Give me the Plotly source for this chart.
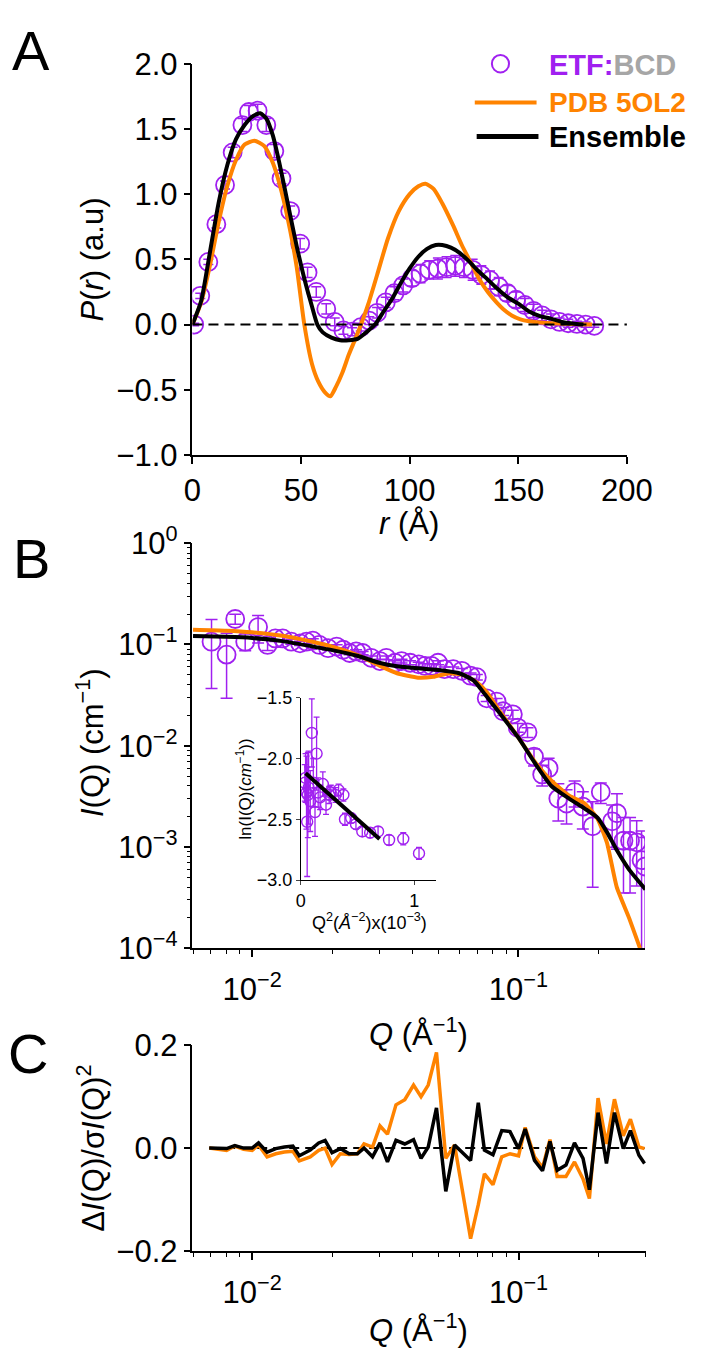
import plotly.graph_objects as go

# ---------------- Panel A : P(r) ----------------
r_data = [0.8, 3.6, 7.3, 11, 15, 18.5, 23, 26, 30, 34, 37.7, 41, 45, 49.6, 53, 57, 61.6, 65.5, 69.5, 73.5,
          77.5, 81.4, 85, 89, 93, 97, 101, 105, 109, 113, 117, 121, 125, 129, 133, 137, 141, 145, 149, 153,
          157, 161, 165, 169, 173, 177, 181, 185]
p_data = [0, 0.22, 0.48, 0.77, 1.07, 1.32, 1.53, 1.63, 1.64, 1.53, 1.33, 1.12, 0.87, 0.62, 0.40, 0.25, 0.12, 0.02, -0.045, -0.055,
          -0.02, 0.03, 0.09, 0.17, 0.24, 0.30, 0.355, 0.39, 0.42, 0.43, 0.44, 0.45, 0.44, 0.42, 0.38, 0.34, 0.29, 0.24, 0.19, 0.15,
          0.105, 0.07, 0.04, 0.02, 0.01, 0.005, 0, -0.01]
p_err = [0.01, 0.02, 0.02, 0.03, 0.03, 0.04, 0.05, 0.05, 0.05, 0.05, 0.05, 0.04, 0.04, 0.04, 0.04, 0.04, 0.04, 0.03, 0.03, 0.03,
         0.03, 0.03, 0.04, 0.04, 0.05, 0.05, 0.06, 0.07, 0.07, 0.08, 0.08, 0.08, 0.08, 0.08, 0.07, 0.07, 0.07, 0.06, 0.06, 0.05,
         0.05, 0.04, 0.04, 0.03, 0.03, 0.02, 0.02, 0.01]

r_pdb = [0, 4, 8, 12, 16, 20, 24, 28.5, 33, 37, 41, 45, 48, 51.5, 55, 58, 61, 63.5, 66, 69, 72, 75, 77.6, 81, 85, 90, 95,
         100, 104, 107.3, 111, 115, 120, 124, 128, 132, 136, 140, 143, 147, 151, 155, 160, 166, 172, 178, 184]
p_pdb = [0, 0.17, 0.45, 0.78, 1.06, 1.26, 1.38, 1.41, 1.37, 1.24, 1.02, 0.72, 0.44, 0.0, -0.3, -0.44, -0.52, -0.55, -0.48, -0.37,
         -0.23, -0.11, 0.0, 0.16, 0.38, 0.66, 0.87, 1.0, 1.06, 1.08, 1.04, 0.93, 0.76, 0.61, 0.48, 0.35, 0.25, 0.17, 0.12, 0.07,
         0.04, 0.025, 0.015, 0.01, 0.006, 0.003, 0]

r_ens = [0, 4, 8, 12, 16, 20, 24, 28, 31.2, 34, 37, 40, 44, 48, 52, 55, 57.5, 60, 64, 68, 72, 76, 80, 84, 88, 92, 96, 100,
         104, 108, 112, 115, 119, 123, 127, 131, 135, 140, 145, 150, 155, 160, 165, 170, 175, 180]
p_ens = [0, 0.18, 0.55, 0.93, 1.22, 1.42, 1.53, 1.6, 1.62, 1.58, 1.45, 1.24, 0.92, 0.6, 0.32, 0.14, 0.0, -0.06, -0.1, -0.12,
         -0.12, -0.11, -0.06, 0.0, 0.1, 0.2, 0.32, 0.43, 0.52, 0.58, 0.61, 0.61, 0.59, 0.55, 0.49, 0.42, 0.36, 0.28, 0.21, 0.16,
         0.1, 0.065, 0.045, 0.02, 0.008, 0]

# ---------------- Panel B : I(Q) ----------------
q_data = [0.00704, 0.00802, 0.00864, 0.00942, 0.01053, 0.01143, 0.01222, 0.01303, 0.01403, 0.01513, 0.0160, 0.0169,
          0.01789, 0.01928, 0.02077, 0.02198, 0.02323, 0.02457, 0.0260, 0.0280, 0.0302, 0.0319, 0.0344, 0.0364, 0.0392,
          0.0422, 0.0446, 0.0472, 0.0499, 0.0528, 0.0569, 0.0613, 0.0661, 0.0698, 0.076, 0.0828, 0.0876, 0.0953, 0.0994,
          0.1082, 0.1144, 0.1228, 0.1298, 0.1412, 0.1516, 0.1626, 0.1745, 0.190, 0.2038, 0.2249, 0.2345, 0.248, 0.2625,
          0.278, 0.29, 0.299]
i_data = [0.1067, 0.0794, 0.1786, 0.1067, 0.1486, 0.099, 0.1148, 0.1148, 0.1067, 0.1028, 0.1067, 0.109,
          0.099, 0.092, 0.0955, 0.0887, 0.0824, 0.0855, 0.0824, 0.0738, 0.0686, 0.0738, 0.066, 0.0686, 0.066,
          0.0637, 0.0614, 0.0614, 0.066, 0.057, 0.057, 0.055, 0.0492, 0.0475, 0.0294, 0.0273, 0.0219, 0.0204, 0.0151,
          0.01356, 0.0078, 0.0052, 0.006, 0.0030, 0.00268, 0.00348, 0.0025, 0.0016, 0.00348, 0.00179, 0.00215, 0.00115, 0.00115,
          0.00111, 0.00074, 0.00064]
i_err = [0.07, 0.05, 0.02, 0.02, 0.045, 0.012, 0.008, 0.006, 0.006, 0.005, 0.005, 0.005,
         0.004, 0.004, 0.004, 0.004, 0.003, 0.003, 0.003, 0.003, 0.003, 0.003, 0.003, 0.003, 0.003,
         0.003, 0.003, 0.003, 0.003, 0.003, 0.003, 0.003, 0.003, 0.003, 0.002, 0.002, 0.002, 0.002, 0.0015,
         0.0015, 0.0015, 0.0012, 0.0015, 0.0012, 0.001, 0.001, 0.001, 0.0012, 0.0008, 0.0008, 0.0012, 0.0008, 0.0008,
         0.0007, 0.0007, 0.0006]

q_pdb = [0.006, 0.008, 0.01, 0.013, 0.0167, 0.02, 0.025, 0.03, 0.035, 0.042, 0.048, 0.055, 0.062, 0.07, 0.076, 0.085,
         0.1, 0.115, 0.133, 0.155, 0.177, 0.198, 0.215, 0.234, 0.26, 0.286]
i_pdb = [0.14, 0.137, 0.132, 0.122, 0.107, 0.095, 0.078, 0.062, 0.052, 0.047, 0.048, 0.052, 0.05, 0.042, 0.034, 0.022,
         0.012, 0.007, 0.0045, 0.0032, 0.0027, 0.0019, 0.0011, 0.0004, 0.0002, 0.0001]

q_ens = [0.006, 0.008, 0.01, 0.013, 0.0167, 0.02, 0.025, 0.03, 0.035, 0.04, 0.05, 0.06, 0.068, 0.075, 0.085, 0.1, 0.115,
         0.133, 0.155, 0.177, 0.198, 0.215, 0.234, 0.26, 0.3]
i_ens = [0.121, 0.119, 0.116, 0.108, 0.096, 0.088, 0.077, 0.066, 0.061, 0.059, 0.056, 0.052, 0.044, 0.032, 0.021, 0.012,
         0.0068, 0.004, 0.003, 0.0024, 0.00195, 0.0014, 0.00093, 0.0006, 0.00038]

# ---------------- Inset : Guinier ----------------
q2_data = [0.035, 0.042, 0.05, 0.056, 0.062, 0.069, 0.083, 0.097, 0.11, 0.125, 0.139, 0.153, 0.17, 0.194, 0.222,
           0.25, 0.264, 0.306, 0.333, 0.375, 0.389, 0.444, 0.486, 0.542, 0.611, 0.681, 0.778, 0.903, 1.042]
ln_data = [-2.2, -2.16, -2.28, -2.52, -2.3, -2.24, -2.35, -1.79, -2.2, -2.44, -1.96, -2.28, -2.32, -2.21, -2.38,
           -2.3, -2.28, -2.30, -2.26, -2.30, -2.50, -2.49, -2.54, -2.60, -2.61, -2.60, -2.67, -2.66, -2.78]
ln_err = [0.15, 0.2, 0.3, 0.45, 0.35, 0.3, 0.25, 0.28, 0.2, 0.2, 0.3, 0.12, 0.1, 0.1, 0.08,
          0.07, 0.06, 0.06, 0.05, 0.05, 0.05, 0.04, 0.04, 0.04, 0.04, 0.04, 0.04, 0.05, 0.05]
q2_fit = [0.042, 0.694]
ln_fit = [-2.122, -2.662]

# ---------------- Panel C : residuals ----------------
q_res = [0.00690, 0.00802, 0.00861, 0.00929, 0.0100, 0.01057, 0.01138, 0.01227, 0.01321, 0.01422, 0.01503, 0.01652,
         0.01778, 0.01879, 0.01995, 0.02143, 0.02312, 0.02483, 0.02630, 0.02831, 0.03020, 0.03221, 0.03467, 0.03741,
         0.04036, 0.04305, 0.04581, 0.04920, 0.05333, 0.05754, 0.06607, 0.07063, 0.07447, 0.08017, 0.08650, 0.09290,
         0.1000, 0.1059, 0.1148, 0.1230, 0.1312, 0.1396, 0.1507, 0.1622, 0.1746, 0.1845, 0.1988, 0.2138, 0.2291,
         0.2472, 0.2630, 0.2831, 0.2972]
res_pdb = [0, -0.0044, 0.004, -0.0025, -0.0044, 0.006, -0.017, -0.011, -0.0076, -0.0063, -0.025, -0.017, -0.0044, 0,
           -0.032, -0.011, -0.0127, -0.011, 0.008, 0.002, 0.043, 0.027, 0.084, 0.094, 0.1225, 0.10, 0.1225, 0.186, -0.02,
           0.006, -0.176, -0.11, -0.05, -0.071, -0.017, -0.011, -0.015, 0.04, -0.017, -0.038, 0.0165, -0.055, -0.055,
           -0.027, -0.06, -0.098, 0.097, 0.008, 0.095, 0.024, 0.056, 0.002, -0.001]
res_ens = [0, -0.001, 0.005, 0, 0, 0.01, -0.008, -0.001, 0.002, 0.004, -0.015, -0.004, 0.01, 0.015, -0.009, -0.001,
           -0.011, -0.011, 0, -0.017, 0.01, -0.027, 0.015, 0.008, 0.0165, -0.02, 0.002, 0.078, -0.084, 0.006, -0.024,
           0.088, -0.004, -0.013, 0.034, 0.032, -0.001, 0.037, -0.024, -0.044, 0.013, -0.043, -0.033, 0.01, -0.02,
           -0.081, 0.069, -0.03, 0.069, -0.001, 0.034, -0.014, -0.03]

# ---------------- tick labels ----------------
a_xticks = [0, 50, 100, 150, 200]
a_yticks = [-1.0, -0.5, 0.0, 0.5, 1.0, 1.5, 2.0]
b_yticks = [1e-4, 1e-3, 1e-2, 1e-1, 1]
b_yticktext = ["10<sup>−4</sup>", "10<sup>−3</sup>", "10<sup>−2</sup>", "10<sup>−1</sup>", "10<sup>0</sup>"]
q_ticks = [0.01, 0.1]
q_ticktext = ["10<sup>−2</sup>", "10<sup>−1</sup>"]
c_yticks = [-0.2, 0.0, 0.2]
ins_xticks = [0, 1]
ins_yticks = [-3.0, -2.5, -2.0, -1.5]

# ---------------- styling ----------------
W, H = 708, 1368
PURPLE = "#a020f0"
ORANGE = "#ff8300"
GREY = "#a6a6a6"
FONT = "Liberation Sans, Arial, Helvetica, sans-serif"


def fx(px):
    return px / W


def fy(py):
    return 1 - py / H


minor_q = [m * 10 ** e for e in (-3, -2, -1) for m in range(2, 10) if 0.0059 < m * 10 ** e < 0.301]
minor_i = [m * 10 ** e for e in (-4, -3, -2, -1) for m in range(2, 10)]

axis_common = dict(showline=True, linecolor="black", linewidth=1.5, ticks="outside", ticklen=7, tickwidth=1.5,
                   tickcolor="black", showgrid=False, zeroline=False, mirror=False,
                   tickfont=dict(family=FONT, size=31, color="black"))

fig = go.Figure()

# Panel A
fig.add_trace(go.Scatter(x=r_data, y=p_data, mode="markers", xaxis="x", yaxis="y",
                         marker=dict(symbol="circle-open", size=18, color=PURPLE, line=dict(width=1.8, color=PURPLE)),
                         error_y=dict(type="data", array=p_err, color=PURPLE, thickness=1.5, width=5)))
fig.add_trace(go.Scatter(x=r_pdb, y=p_pdb, mode="lines", xaxis="x", yaxis="y",
                         line=dict(color=ORANGE, width=4, shape="spline", smoothing=0.6)))
fig.add_trace(go.Scatter(x=r_ens, y=p_ens, mode="lines", xaxis="x", yaxis="y",
                         line=dict(color="black", width=4, shape="spline", smoothing=0.6)))

# Panel B
fig.add_trace(go.Scatter(x=q_data, y=i_data, mode="markers", xaxis="x2", yaxis="y2",
                         marker=dict(symbol="circle-open", size=18, color=PURPLE, line=dict(width=1.8, color=PURPLE)),
                         error_y=dict(type="data", array=i_err, color=PURPLE, thickness=1.5, width=6)))
fig.add_trace(go.Scatter(x=q_pdb, y=i_pdb, mode="lines", xaxis="x2", yaxis="y2",
                         line=dict(color=ORANGE, width=4, shape="spline", smoothing=0.5)))
fig.add_trace(go.Scatter(x=q_ens, y=i_ens, mode="lines", xaxis="x2", yaxis="y2",
                         line=dict(color="black", width=4, shape="spline", smoothing=0.5)))

# Inset
fig.add_trace(go.Scatter(x=q2_data, y=ln_data, mode="markers", xaxis="x3", yaxis="y3",
                         marker=dict(symbol="circle-open", size=11, color=PURPLE, line=dict(width=1.4, color=PURPLE)),
                         error_y=dict(type="data", array=ln_err, color=PURPLE, thickness=1.3, width=3)))
fig.add_trace(go.Scatter(x=q2_fit, y=ln_fit, mode="lines", xaxis="x3", yaxis="y3",
                         line=dict(color="black", width=4)))

# Panel C
fig.add_trace(go.Scatter(x=[q_res[0], q_res[-1]], y=[0, 0], mode="lines", xaxis="x4", yaxis="y4",
                         line=dict(color="black", width=2, dash="10px,6px")))
fig.add_trace(go.Scatter(x=q_res, y=res_pdb, mode="lines", xaxis="x4", yaxis="y4",
                         line=dict(color=ORANGE, width=3.5)))
fig.add_trace(go.Scatter(x=q_res, y=res_ens, mode="lines", xaxis="x4", yaxis="y4",
                         line=dict(color="black", width=3.5)))

fig.update_traces(showlegend=False, hoverinfo="skip")

layout = dict(
    width=W, height=H, margin=dict(l=0, r=0, t=0, b=0),
    paper_bgcolor="white", plot_bgcolor="white", showlegend=False,
    font=dict(family=FONT, color="black"),
    xaxis=dict(domain=[fx(193), fx(650)], range=[0, 200], anchor="y", tickvals=a_xticks, **axis_common),
    yaxis=dict(domain=[fy(446), fy(43)], range=[-1, 2], anchor="x", tickvals=a_yticks, tickformat=".1f",
               **axis_common),
    xaxis2=dict(domain=[fx(193), fx(669)], type="log", range=[-2.224, -0.525], anchor="y2",
                tickvals=q_ticks, ticktext=q_ticktext, ticklabelstandoff=6,
                minor=dict(ticks="outside", ticklen=4, tickwidth=1, tickcolor="black", tickvals=minor_q),
                **axis_common),
    yaxis2=dict(domain=[fy(954), fy(537)], type="log", range=[-4, 0], anchor="x2",
                tickvals=b_yticks, ticktext=b_yticktext,
                minor=dict(ticks="outside", ticklen=4, tickwidth=1, tickcolor="black", tickvals=minor_i),
                **axis_common),
    xaxis3=dict(domain=[fx(307), fx(449)], range=[0, 1.19], anchor="y3", tickvals=ins_xticks,
                showline=True, linecolor="black", linewidth=1, ticks="outside", ticklen=4, tickwidth=1,
                showgrid=False, zeroline=False, tickfont=dict(family=FONT, size=18, color="black")),
    yaxis3=dict(domain=[fy(884), fy(696)], range=[-3.0, -1.5], anchor="x3", tickvals=ins_yticks, tickformat=".1f",
                showline=True, linecolor="black", linewidth=1, ticks="outside", ticklen=4, tickwidth=1,
                showgrid=False, zeroline=False, tickfont=dict(family=FONT, size=18, color="black")),
    xaxis4=dict(domain=[fx(193), fx(670)], type="log", range=[-2.224, -0.522], anchor="y4",
                tickvals=q_ticks, ticktext=q_ticktext, ticklabelstandoff=6,
                minor=dict(ticks="outside", ticklen=4, tickwidth=1, tickcolor="black", tickvals=minor_q),
                **axis_common),
    yaxis4=dict(domain=[fy(1266), fy(1054)], range=[-0.2, 0.2], anchor="x4", tickvals=c_yticks, tickformat=".1f",
                **axis_common),
)
fig.update_layout(**layout)

# zero reference line in panel A
fig.add_shape(type="line", xref="x domain", yref="y", x0=0, x1=1, y0=0, y1=0,
              line=dict(color="black", width=2, dash="10px,6px"))


def ann(text, x, y, size, color="black", angle=0, xanchor="center"):
    fig.add_annotation(text=text, x=fx(x), y=fy(y), xref="paper", yref="paper", showarrow=False,
                       textangle=angle, xanchor=xanchor, yanchor="middle",
                       font=dict(family=FONT, size=size, color=color))


# panel letters
ann("A", 23, 29, 56)
ann("B", 24, 553, 56)
ann("C", 20, 1063, 56)

# axis titles
ann("<i>P</i>(<i>r</i>) (a.u)", 88, 245, 31, angle=-90)
ann("<i>r</i> (Å)", 421, 517, 31)
ann("<i>I</i>(Q) (cm<sup>−1</sup>)", 86, 742, 31, angle=-90)
ann("<i>Q</i> (Å<sup>−1</sup>)", 431, 1040, 31)
ann("Δ<i>I</i>(Q)/σ<i>I</i>(Q)<sup>2</sup>", 86, 1160, 31, angle=-90)
ann("<i>Q</i> (Å<sup>−1</sup>)", 431, 1345, 31)
# inset titles
ann("ln(I(Q)(<i>cm</i><sup>−1</sup>))", 247, 790, 17, angle=-90)
ann("Q<sup>2</sup>(<i>Å</i><sup>−2</sup>)x(10<sup>−3</sup>)", 379, 927, 18)

# legend (panel A)
fig.add_shape(type="circle", xref="paper", yref="paper", x0=fx(508), x1=fx(526), y0=fy(52), y1=fy(34),
              line=dict(color=PURPLE, width=2))
ann("<b><span style='color:%s'>ETF:</span><span style='color:%s'>BCD</span></b>" % (PURPLE, GREY),
    566, 44, 29, xanchor="left")
fig.add_shape(type="line", xref="paper", yref="paper", x0=fx(490), x1=fx(555), y0=fy(83), y1=fy(83),
              line=dict(color=ORANGE, width=4))
ann("<b>PDB 5OL2</b>", 566, 83, 28, color=ORANGE, xanchor="left")
fig.add_shape(type="line", xref="paper", yref="paper", x0=fx(492), x1=fx(557), y0=fy(118), y1=fy(118),
              line=dict(color="black", width=5))
ann("<b>Ensemble</b>", 566, 118, 29, xanchor="left")

fig.write_html("out.html", config={"displayModeBar": False},
               post_script="document.body.style.margin='0';document.body.style.overflow='hidden';")
